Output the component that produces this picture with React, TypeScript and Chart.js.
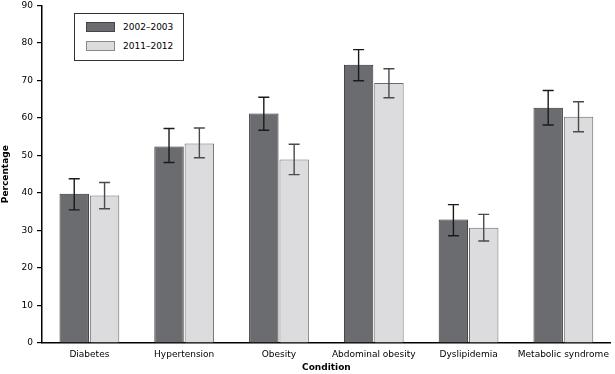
import React, { useEffect, useRef } from "react";
import { Chart, registerables } from "chart.js";

Chart.register(...registerables);

const categories = ["Diabetes", "Hypertension", "Obesity", "Abdominal obesity", "Dyslipidemia", "Metabolic syndrome"];
const seriesLabels = ["2002–2003", "2011–2012"];
const values2002 = [39.8, 52.4, 61.2, 74.2, 32.9, 62.7];
const low2002 = [35.5, 48.1, 56.7, 69.9, 28.6, 58.1];
const high2002 = [43.8, 57.2, 65.5, 78.2, 36.9, 67.3];
const values2011 = [39.3, 53.2, 48.9, 69.3, 30.7, 60.3];
const low2011 = [35.8, 49.4, 44.9, 65.4, 27.2, 56.3];
const high2011 = [42.8, 57.3, 53.0, 73.1, 34.3, 64.3];
const yTicks = [0, 10, 20, 30, 40, 50, 60, 70, 80, 90];

const FONT = "'DejaVu Sans', Verdana, sans-serif";
const DARK = "#6b6c70";
const LIGHT = "#dcdcde";

const errorBarPlugin = {
  id: "errorBars",
  afterDatasetsDraw(chart: any) {
    const ctx = chart.ctx;
    const y = chart.scales.y;
    const ranges = [
      { lo: low2002, hi: high2002, color: "#1a1a1a" },
      { lo: low2011, hi: high2011, color: "#4a4a4a" },
    ];
    ranges.forEach((r, di) => {
      const meta = chart.getDatasetMeta(di);
      meta.data.forEach((bar: any, i: number) => {
        const x = bar.x;
        const yl = y.getPixelForValue(r.lo[i]);
        const yh = y.getPixelForValue(r.hi[i]);
        ctx.save();
        ctx.strokeStyle = r.color;
        ctx.lineWidth = 1.4;
        ctx.beginPath();
        ctx.moveTo(x, yl);
        ctx.lineTo(x, yh);
        ctx.moveTo(x - 5.5, yl);
        ctx.lineTo(x + 5.5, yl);
        ctx.moveTo(x - 5.5, yh);
        ctx.lineTo(x + 5.5, yh);
        ctx.stroke();
        ctx.restore();
      });
    });
  },
};

export default function App() {
  const ref = useRef<HTMLCanvasElement>(null);
  useEffect(() => {
    document.body.style.margin = "0";
    const chart = new Chart(ref.current!, {
      type: "bar",
      data: {
        labels: categories,
        datasets: [
          {
            label: seriesLabels[0],
            data: values2002,
            backgroundColor: DARK,
            borderColor: "#2e2e30",
            borderWidth: 1,
            categoryPercentage: 0.64,
            barPercentage: 0.97,
          },
          {
            label: seriesLabels[1],
            data: values2011,
            backgroundColor: LIGHT,
            borderColor: "#6a6a6a",
            borderWidth: 1,
            categoryPercentage: 0.64,
            barPercentage: 0.97,
          },
        ],
      },
      options: {
        animation: false,
        responsive: false,
        layout: { padding: { top: 0, right: 1, left: 0, bottom: 0 } },
        plugins: { legend: { display: false }, tooltip: { enabled: false } },
        scales: {
          x: {
            afterFit: (s: any) => {
              s.height = 32;
            },
            grid: { display: false, tickLength: 0 },
            border: { color: "#000", width: 1.5 },
            ticks: { color: "#000", font: { family: FONT, size: 9 }, padding: 6, maxRotation: 0, autoSkip: false },
            title: { display: true, text: "Condition", color: "#000", font: { family: FONT, size: 9, weight: "bold" }, padding: { top: 0, bottom: 2 } },
          },
          y: {
            min: 0,
            max: 90,
            afterBuildTicks: (s: any) => {
              s.ticks = yTicks.map((v) => ({ value: v }));
            },
            afterFit: (s: any) => {
              s.width = 42;
            },
            grid: { drawOnChartArea: false, drawTicks: true, tickLength: 5, color: "#000", lineWidth: 1.2 },
            border: { color: "#000", width: 1.5 },
            ticks: { color: "#000", font: { family: FONT, size: 9 }, padding: 4 },
            title: { display: true, text: "Percentage", color: "#000", font: { family: FONT, size: 9, weight: "bold" }, padding: { top: 0, bottom: 2 } },
          },
        },
      },
      plugins: [errorBarPlugin],
    } as any);
    return () => chart.destroy();
  }, []);

  const swatch = (bg: string, border: string): React.CSSProperties => ({
    position: "absolute",
    left: 11,
    width: 29,
    height: 10,
    background: bg,
    border: `1px solid ${border}`,
    boxSizing: "border-box",
  });
  const text: React.CSSProperties = {
    position: "absolute",
    left: 48,
    fontFamily: FONT,
    fontSize: 9,
    color: "#000",
    lineHeight: "10px",
  };

  return (
    <div style={{ position: "relative", width: 615, height: 374, overflow: "hidden" }}>
      <canvas ref={ref} width={615} height={379} style={{ display: "block", position: "absolute", left: 0, top: -4 }} />
      <div
        style={{
          position: "absolute",
          left: 74,
          top: 13,
          width: 110,
          height: 48,
          border: "1.5px solid #333",
          boxSizing: "border-box",
          background: "#fff",
        }}
      >
        <div style={{ ...swatch(DARK, "#444"), top: 8 }} />
        <div style={{ ...text, top: 8 }}>{seriesLabels[0]}</div>
        <div style={{ ...swatch(LIGHT, "#888"), top: 27 }} />
        <div style={{ ...text, top: 27 }}>{seriesLabels[1]}</div>
      </div>
    </div>
  );
}
